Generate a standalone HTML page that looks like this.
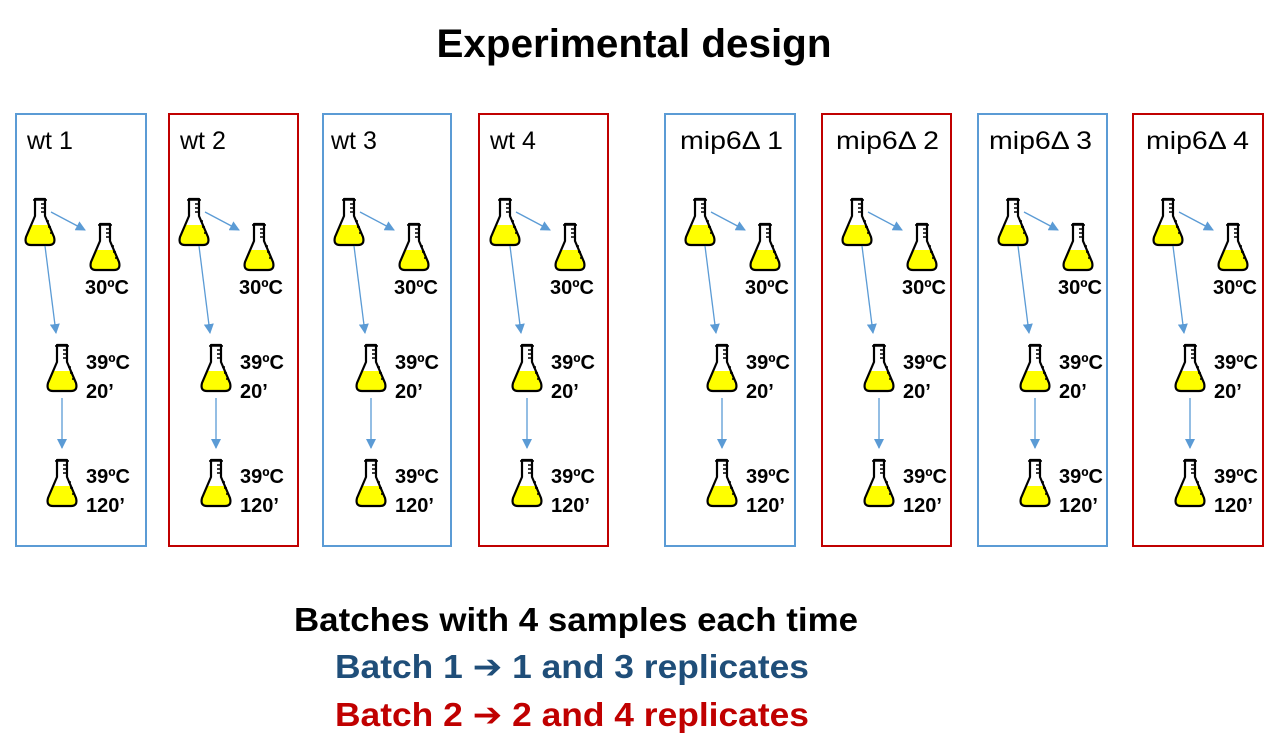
<!DOCTYPE html>
<html><head><meta charset="utf-8"><style>
html,body{margin:0;padding:0;background:#fff;}
svg{display:block;font-family:"Liberation Sans",Arial,sans-serif;}
</style></head><body>
<svg width="1280" height="751" viewBox="0 0 1280 751" xmlns="http://www.w3.org/2000/svg">
<defs>
<marker id="ah" markerWidth="10" markerHeight="10" refX="9" refY="5" orient="auto" markerUnits="userSpaceOnUse" viewBox="0 0 10 10">
<path d="M0,0 L10,5 L0,10 Z" fill="#5b9bd5"/></marker>
<g id="fl">
<path d="M6,26 H24 L29,38 Q31,46 24,46 H6 Q-1,46 1,38 Z" fill="#ffff00"/>
<path d="M10,0 H20 V17 L29,38 Q31,46 24,46 H6 Q-1,46 1,38 L10,17 Z" fill="none" stroke="#000" stroke-width="2.2" stroke-linejoin="round"/>
<path d="M8,1 H22 M16,5 H20 M16,9 H20 M16,13 H20 M21,22 H24 M23,28 H26 M25,34 H28" stroke="#000" stroke-width="1.5"/>
</g>
<g id="content">
<use href="#fl" x="9" y="199"/>
<use href="#fl" x="74" y="224"/>
<use href="#fl" x="31" y="345"/>
<use href="#fl" x="31" y="460"/>
<g stroke="#5b9bd5" stroke-width="1.3" fill="none" marker-end="url(#ah)">
<line x1="35" y1="212" x2="69" y2="230"/>
<line x1="29" y1="246" x2="40" y2="333"/>
<line x1="46" y1="398" x2="46" y2="448"/>
</g>
</g>
</defs>
<text x="634" y="57" font-size="40" font-weight="bold" text-anchor="middle" textLength="395" lengthAdjust="spacingAndGlyphs">Experimental design</text>
<g fill="none" stroke-width="2">
<rect x="16" y="114" width="130" height="432" stroke="#5b9bd5"/>
<rect x="169" y="114" width="129" height="432" stroke="#c00000"/>
<rect x="323" y="114" width="128" height="432" stroke="#5b9bd5"/>
<rect x="479" y="114" width="129" height="432" stroke="#c00000"/>
<rect x="665" y="114" width="130" height="432" stroke="#5b9bd5"/>
<rect x="822" y="114" width="129" height="432" stroke="#c00000"/>
<rect x="978" y="114" width="129" height="432" stroke="#5b9bd5"/>
<rect x="1133" y="114" width="130" height="432" stroke="#c00000"/>
</g>
<g font-size="25">
<text x="27" y="149">wt 1</text>
<text x="180" y="149">wt 2</text>
<text x="331" y="149">wt 3</text>
<text x="490" y="149">wt 4</text>
<text x="680" y="149" textLength="103" lengthAdjust="spacingAndGlyphs">mip6Δ 1</text>
<text x="836" y="149" textLength="103" lengthAdjust="spacingAndGlyphs">mip6Δ 2</text>
<text x="989" y="149" textLength="103" lengthAdjust="spacingAndGlyphs">mip6Δ 3</text>
<text x="1146" y="149" textLength="103" lengthAdjust="spacingAndGlyphs">mip6Δ 4</text>
</g>
<g font-size="20" font-weight="bold">
<g transform="translate(16,0)"><use href="#content"/><text x="69" y="294">30ºC</text><text x="70" y="369">39ºC</text><text x="70" y="398">20’</text><text x="70" y="483">39ºC</text><text x="70" y="512">120’</text></g>
<g transform="translate(170,0)"><use href="#content"/><text x="69" y="294">30ºC</text><text x="70" y="369">39ºC</text><text x="70" y="398">20’</text><text x="70" y="483">39ºC</text><text x="70" y="512">120’</text></g>
<g transform="translate(325,0)"><use href="#content"/><text x="69" y="294">30ºC</text><text x="70" y="369">39ºC</text><text x="70" y="398">20’</text><text x="70" y="483">39ºC</text><text x="70" y="512">120’</text></g>
<g transform="translate(481,0)"><use href="#content"/><text x="69" y="294">30ºC</text><text x="70" y="369">39ºC</text><text x="70" y="398">20’</text><text x="70" y="483">39ºC</text><text x="70" y="512">120’</text></g>
<g transform="translate(676,0)"><use href="#content"/><text x="69" y="294">30ºC</text><text x="70" y="369">39ºC</text><text x="70" y="398">20’</text><text x="70" y="483">39ºC</text><text x="70" y="512">120’</text></g>
<g transform="translate(833,0)"><use href="#content"/><text x="69" y="294">30ºC</text><text x="70" y="369">39ºC</text><text x="70" y="398">20’</text><text x="70" y="483">39ºC</text><text x="70" y="512">120’</text></g>
<g transform="translate(989,0)"><use href="#content"/><text x="69" y="294">30ºC</text><text x="70" y="369">39ºC</text><text x="70" y="398">20’</text><text x="70" y="483">39ºC</text><text x="70" y="512">120’</text></g>
<g transform="translate(1144,0)"><use href="#content"/><text x="69" y="294">30ºC</text><text x="70" y="369">39ºC</text><text x="70" y="398">20’</text><text x="70" y="483">39ºC</text><text x="70" y="512">120’</text></g>
</g>
<g font-size="33" font-weight="bold">
<text x="294" y="631" textLength="564" lengthAdjust="spacingAndGlyphs">Batches with 4 samples each time</text>
<text x="335" y="678" fill="#1f4e79" textLength="474" lengthAdjust="spacingAndGlyphs">Batch 1 <tspan font-family="DejaVu Sans">➔</tspan> 1 and 3 replicates</text>
<text x="335" y="726" fill="#c00000" textLength="474" lengthAdjust="spacingAndGlyphs">Batch 2 <tspan font-family="DejaVu Sans">➔</tspan> 2 and 4 replicates</text>
</g>
</svg>
</body></html>
